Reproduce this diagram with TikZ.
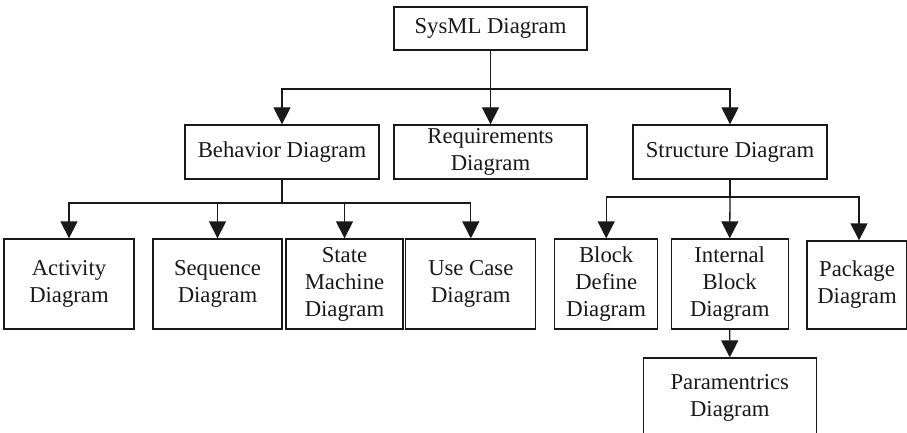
\documentclass[tikz,border=0pt]{standalone}
\usepackage{fontspec}
\setmainfont{Liberation Serif}
\usetikzlibrary{arrows.meta}
\tikzset{
  box/.style={draw=black!90, line width=1.3pt, inner sep=0pt, align=center,
    font=\fontsize{22.7}{27}\selectfont, text=black!90},
  conn/.style={draw=black!90, line width=1.3pt},
  arr/.style={conn, -{Triangle[length=17pt,width=17pt]}},
}
\begin{document}
\begin{tikzpicture}[x=1pt,y=-1pt]
\useasboundingbox (0,0) rectangle (907,433);
\clip (0,0) rectangle (907,433);
\node[box, minimum width=193pt, minimum height=43pt] (sysml) at (490.5,28.5) {SysML Diagram};
\node[box, minimum width=194pt, minimum height=54pt] (behav) at (282,152) {Behavior Diagram};
\node[box, minimum width=193pt, minimum height=54pt] (req) at (490.5,152) {Requirements\\Diagram};
\node[box, minimum width=194pt, minimum height=54pt] (struct) at (730,152) {Structure Diagram};
\node[box, minimum width=130pt, minimum height=90pt] (act) at (69,284) {Activity\\Diagram};
\node[box, minimum width=129pt, minimum height=90pt] (seq) at (217.5,284) {Sequence\\Diagram};
\node[box, minimum width=117pt, minimum height=90pt] (state) at (344.5,284) {State\\Machine\\Diagram};
\node[box, minimum width=130pt, minimum height=90pt] (usecase) at (470.8,284) {Use Case\\Diagram};
\node[box, minimum width=103pt, minimum height=90pt] (bdd) at (606.2,284) {Block\\Define\\Diagram};
\node[box, minimum width=117pt, minimum height=90pt] (ibd) at (729.7,284) {Internal\\Block\\Diagram};
\node[box, minimum width=100pt, minimum height=88pt] (pkg) at (857,285) {Package\\Diagram};
\node[box, minimum width=173pt, minimum height=80pt] (param) at (729.8,398) {Paramentrics\\Diagram};
\coordinate (j1) at (490.5,89);
\coordinate (j2) at (282,203);
\coordinate (j3) at (730,197);
\draw[arr] (sysml.south) -- (req.north);
\draw[arr] (j1) -| (behav.north);
\draw[arr] (j1) -| (struct.north);
\draw[conn] (behav.south) -- (j2);
\draw[arr] (j2) -| (act.north);
\draw[arr] (j2) -| (seq.north);
\draw[arr] (j2) -| (state.north);
\draw[arr] (j2) -| (usecase.north);
\draw[conn] (struct.south) -- (j3);
\draw[arr] (j3) -| (bdd.north);
\draw[arr] (j3) -- (ibd.north);
\draw[arr] (j3) -| ([xshift=2pt]pkg.north);
\draw[arr] (ibd.south) -- (param.north);
\end{tikzpicture}
\end{document}
